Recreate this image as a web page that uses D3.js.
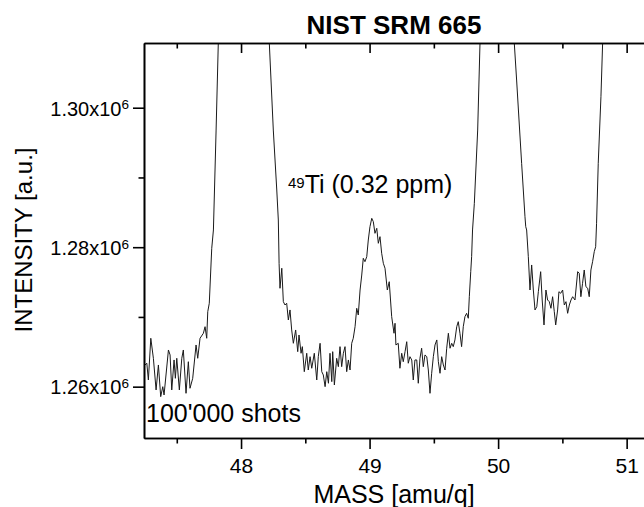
<!DOCTYPE html>
<html>
<head>
<meta charset="utf-8">
<script src="https://cdn.jsdelivr.net/npm/d3@7"></script>
<style>
  html, body { margin: 0; padding: 0; background: #fff; }
  svg { display: block; font-family: "Liberation Sans", Arial, sans-serif; }
</style>
</head>
<body>
<svg id="chart" width="644" height="507"></svg>
<script>
// ---- data ----
const mass = [
  47.253,47.267,47.279,47.298,47.318,47.339,47.357,47.375,47.391,47.401,
  47.435,47.448,47.461,47.479,47.489,47.500,47.520,47.539,47.551,47.572,
  47.590,47.603,47.624,47.650,47.663,47.681,47.707,47.720,47.733,47.741,
  47.753,47.772,47.785,47.806,47.823,47.826,
  48.020,
  48.215,48.220,48.251,48.278,48.290,48.296,48.303,48.317,48.329,48.342,
  48.355,48.368,48.381,48.394,48.407,48.425,48.441,48.451,48.467,48.477,
  48.492,48.511,48.523,48.537,48.550,48.570,48.589,48.601,48.615,48.628,
  48.640,48.654,48.667,48.680,48.692,48.706,48.713,48.726,48.744,48.757,
  48.770,48.783,48.796,48.809,48.822,48.835,48.848,48.861,48.873,48.887,
  48.900,48.912,48.926,48.939,48.951,48.964,48.978,48.990,49.003,49.017,
  49.029,49.042,49.056,49.068,49.081,49.094,49.107,49.120,49.138,49.153,
  49.172,49.190,49.198,49.205,49.223,49.236,49.250,49.262,49.276,49.289,
  49.301,49.314,49.328,49.340,49.353,49.367,49.379,49.392,49.405,49.418,
  49.431,49.445,49.457,49.470,49.483,49.496,49.509,49.523,49.535,49.548,
  49.561,49.574,49.587,49.600,49.613,49.626,49.639,49.651,49.664,49.678,
  49.690,49.703,49.716,49.729,49.742,49.755,49.768,49.776,49.787,49.794,
  49.801,49.815,49.841,49.859,49.862,
  49.990,
  50.119,50.126,50.144,50.165,50.183,50.196,50.209,50.215,50.222,50.235,
  50.248,50.261,50.274,50.287,50.301,50.313,50.331,50.343,50.357,50.372,
  50.385,50.398,50.411,50.424,50.437,50.448,50.463,50.473,50.487,50.502,
  50.515,50.528,50.541,50.554,50.567,50.580,50.598,50.619,50.631,50.644,
  50.657,50.670,50.683,50.697,50.709,50.722,50.735,50.748,50.759,50.766,
  50.779,50.800,50.813,50.816,
  51.000
];
const intensity = [
  1263110,1263360,1260960,1266940,1264070,1259530,1263110,1258570,1260000,1258810,
  1265260,1264550,1259530,1263830,1261200,1264070,1259530,1264070,1265260,1259050,
  1263580,1259770,1261200,1265980,1264070,1266940,1267660,1268600,1266940,1270750,
  1271960,1279840,1282470,1296800,1309230,1311140,
  1400000,
  1311140,1309230,1296800,1288200,1283900,1277690,1274110,1276980,1272190,1271710,
  1271960,1269560,1271000,1268130,1266220,1268130,1265020,1267410,1264790,1265740,
  1262150,1264790,1262390,1264300,1262640,1264790,1260960,1264300,1266220,1262150,
  1261680,1260000,1262150,1260490,1264790,1260720,1265020,1260240,1264070,1262870,
  1265740,1262870,1264790,1265740,1262150,1263830,1262390,1266220,1266940,1268600,
  1271240,1270280,1273860,1276010,1278410,1277920,1278640,1281030,1282940,1284140,
  1283660,1281990,1282710,1280560,1281510,1279130,1277690,1276980,1273860,1275050,
  1270040,1267660,1269090,1265980,1266220,1262640,1264790,1263580,1265020,1266450,
  1263360,1264300,1263830,1260960,1263830,1263830,1260490,1264070,1265510,1262870,
  1264550,1264300,1262390,1259050,1261920,1264300,1265980,1266700,1263580,1261920,
  1264300,1263110,1262390,1265510,1267660,1265510,1266220,1265740,1266700,1268600,
  1269320,1267660,1265740,1268600,1270040,1270520,1269810,1272900,1276490,1278640,
  1282470,1286290,1296800,1309230,1311140,
  1400000,
  1311140,1309230,1303970,1297520,1292030,1288200,1284370,1282940,1282470,1278640,
  1273860,1277450,1273860,1271000,1271470,1273620,1276490,1272430,1268850,1273860,
  1272430,1272190,1271240,1272900,1270750,1268850,1271000,1273620,1273390,1273860,
  1271710,1272190,1270520,1271710,1272430,1272900,1272430,1276490,1276260,1272900,
  1274820,1276730,1274340,1274110,1272900,1276730,1277920,1279360,1280070,1283430,
  1292030,1301580,1309230,1311140,
  1400000
];
const xMajorTicks = [48, 49, 50, 51];
const xMinorTicks = [47.5, 48.5, 49.5, 50.5];
const yMajorTicks = [1260000, 1280000, 1300000];
const yMinorTicks = [1270000, 1290000];
const yTickMantissa = ["1.26", "1.28", "1.30"];
const xDomain = [47.245, 51.135];
const yDomain = [1252640, 1309280];

// ---- layout ----
const L = 144, R = 644, T = 43, B = 438;
const svg = d3.select("#chart");
const x = d3.scaleLinear().domain(xDomain).range([L, R]);
const y = d3.scaleLinear().domain(yDomain).range([B, T]);

svg.append("defs").append("clipPath").attr("id", "clip")
  .append("rect").attr("x", L).attr("y", T).attr("width", R - L).attr("height", B - T);

const points = mass.map((m, i) => ({ m, v: intensity[i] }));
const line = d3.line().x(d => x(d.m)).y(d => y(d.v));
svg.append("path")
  .datum(points)
  .attr("clip-path", "url(#clip)")
  .attr("fill", "none")
  .attr("stroke", "#1a1a1a")
  .attr("stroke-width", 1)
  .attr("stroke-linejoin", "round")
  .attr("d", line);

function styleAxis(g) {
  g.select(".domain").attr("stroke", "#000").attr("stroke-width", 1.6);
  g.selectAll(".tick line").attr("stroke", "#000").attr("stroke-width", 1.6);
  g.selectAll("text").attr("fill", "#000");
}

// bottom axis
const gB = svg.append("g").attr("transform", `translate(0,${B})`)
  .call(d3.axisBottom(x).tickValues(xMajorTicks).tickSize(11).tickSizeOuter(0)
    .tickPadding(9).tickFormat(d3.format("d")));
gB.selectAll("text").attr("font-size", 21).attr("font-family", "Liberation Sans, Arial, sans-serif");
styleAxis(gB);
const gBm = svg.append("g").attr("transform", `translate(0,${B})`)
  .call(d3.axisBottom(x).tickValues(xMinorTicks).tickSize(5.5).tickSizeOuter(0).tickFormat(""));
styleAxis(gBm);

// top axis (ticks inward)
const gT = svg.append("g").attr("transform", `translate(0,${T})`)
  .call(d3.axisTop(x).tickValues(xMajorTicks).tickSize(-10).tickSizeOuter(0).tickFormat(""));
styleAxis(gT);
const gTm = svg.append("g").attr("transform", `translate(0,${T})`)
  .call(d3.axisTop(x).tickValues(xMinorTicks).tickSize(-5.5).tickSizeOuter(0).tickFormat(""));
styleAxis(gTm);

// left axis
const gL = svg.append("g").attr("transform", `translate(${L},0)`)
  .call(d3.axisLeft(y).tickValues(yMajorTicks).tickSize(11).tickSizeOuter(0).tickFormat(""));
styleAxis(gL);
gL.selectAll(".tick").each(function(d, i) {
  const t = d3.select(this).append("text")
    .attr("x", -15).attr("y", 7.3)
    .attr("text-anchor", "end")
    .attr("font-size", 20)
    .attr("fill", "#000");
  t.append("tspan").text(yTickMantissa[i] + "x10");
  t.append("tspan").attr("font-size", 13.5).attr("dy", -6.5).text("6");
});
const gLm = svg.append("g").attr("transform", `translate(${L},0)`)
  .call(d3.axisLeft(y).tickValues(yMinorTicks).tickSize(5.5).tickSizeOuter(0).tickFormat(""));
styleAxis(gLm);

// texts
svg.append("text").attr("x", 394).attr("y", 33.5).attr("text-anchor", "middle")
  .attr("font-size", 26).attr("font-weight", "bold").text("NIST SRM 665");
svg.append("text").attr("x", 394).attr("y", 503).attr("text-anchor", "middle")
  .attr("font-size", 25).text("MASS [amu/q]");
svg.append("text").attr("transform", "translate(31.5,240) rotate(-90)")
  .attr("text-anchor", "middle").attr("font-size", 24).text("INTENSITY [a.u.]");
svg.append("text").attr("x", 146).attr("y", 421.7).attr("font-size", 25).text("100'000 shots");
const ann = svg.append("text").attr("x", 288).attr("y", 193.3).attr("font-size", 25);
ann.append("tspan").attr("font-size", 15).attr("dy", -5.5).text("49");
ann.append("tspan").attr("dy", 5.5).text("Ti (0.32 ppm)");
</script>
</body>
</html>
